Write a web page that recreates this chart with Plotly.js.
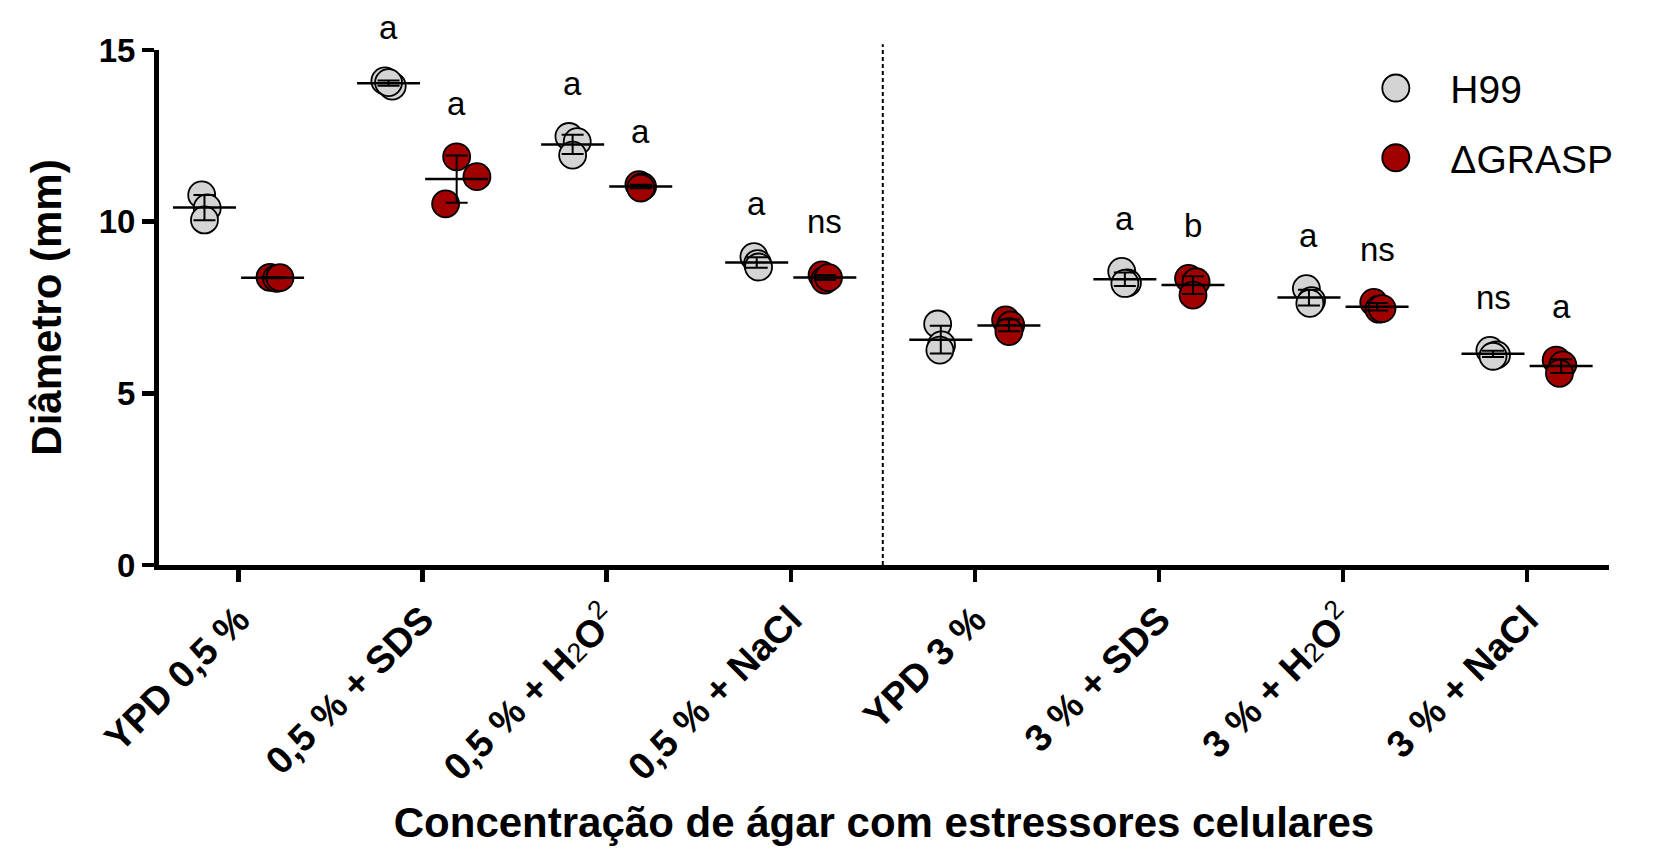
<!DOCTYPE html>
<html>
<head>
<meta charset="utf-8">
<script src="https://cdn.plot.ly/plotly-3.0.1.min.js"></script>
<style>html,body{margin:0;padding:0;background:#fff;}</style>
</head>
<body>
<div id="chart" style="width:1662px;height:852px;"></div>
<script>
// ---- data ----
const categories = [
  'YPD 0,5 %',
  '0,5 % + SDS',
  '0,5 % + H<span style="font-weight:normal;font-size:27px">2</span>O<sup><span style="font-weight:normal">2</span></sup>',
  '0,5 % + NaCl',
  'YPD 3 %',
  '3 % + SDS',
  '3 % + H<span style="font-weight:normal;font-size:27px">2</span>O<sup><span style="font-weight:normal">2</span></sup>',
  '3 % + NaCl'
];
const seriesNames = ['H99', '\u0394GRASP'];
const h99Values = [
  [10.78, 10.40, 10.05],
  [14.10, 13.95, 14.05],
  [12.48, 12.33, 11.94],
  [8.98, 8.78, 8.68],
  [7.02, 6.41, 6.26],
  [8.55, 8.22, 8.20],
  [8.05, 7.70, 7.62],
  [6.25, 6.12, 6.08]
];
const graspValues = [
  [8.38, 8.35, 8.37],
  [10.52, 11.89, 11.31],
  [11.08, 11.02, 10.98],
  [8.45, 8.30, 8.37],
  [7.14, 6.99, 6.80],
  [8.35, 8.25, 7.86],
  [7.65, 7.45, 7.47],
  [5.97, 5.83, 5.58]
];
const h99Sig = ['', 'a', 'a', 'a', '', 'a', 'a', 'ns'];
const graspSig = ['', 'a', 'a', 'ns', '', 'b', 'ns', 'a'];
const yTicks = [0, 5, 10, 15];
const yRange = [0, 15];

// ---- layout helpers (positions / styles) ----
const groupOffset = [-0.185, 0.185];
const h99Jitter = [
  [-0.015, 0.015, 0.0], [-0.02, 0.02, 0.0], [-0.02, 0.025, 0.0], [-0.015, 0.005, 0.01],
  [-0.017, 0.004, -0.005], [-0.017, 0.014, 0.0], [-0.014, 0.014, 0.005], [-0.017, 0.019, 0.0]
];
const graspJitter = [
  [-0.014, 0.022, 0.04], [-0.06, 0.0, 0.11], [-0.01, 0.01, 0.0], [-0.015, 0.0, 0.02],
  [-0.018, 0.01, 0.0], [-0.024, 0.017, 0.0], [-0.018, 0.01, 0.027], [-0.027, 0.009, -0.009]
];
const colors = ['#D4D4D4', '#A00000'];
const labelOffset = 1.55;
const FONT = 'Arial, "Liberation Sans", "Helvetica Neue", sans-serif';

const mean = a => a.reduce((s, v) => s + v, 0) / a.length;
const sd = a => { const m = mean(a); return Math.sqrt(a.reduce((s, v) => s + (v - m) * (v - m), 0) / (a.length - 1)); };

const allValues = [h99Values, graspValues];
const allJitter = [h99Jitter, graspJitter];
const allSig = [h99Sig, graspSig];

const traces = [];
// individual points
allValues.forEach((vals, s) => {
  const xs = [], ys = [];
  vals.forEach((grp, i) => grp.forEach((v, k) => { xs.push(i + groupOffset[s] + allJitter[s][i][k]); ys.push(v); }));
  traces.push({
    type: 'scatter', mode: 'markers', name: seriesNames[s], x: xs, y: ys,
    legendgroup: 'g' + s,
    marker: { size: 27, color: colors[s], line: { color: 'black', width: 1.8 } },
    cliponaxis: false, hoverinfo: 'skip'
  });
});
// mean line + SD error bars
allValues.forEach((vals, s) => {
  traces.push({
    type: 'scatter', mode: 'markers', showlegend: false,
    x: vals.map((g, i) => i + groupOffset[s]),
    y: vals.map(mean),
    marker: { symbol: 'line-ew', size: 45, color: 'black', line: { color: 'black', width: 2.5 } },
    error_y: { type: 'data', array: vals.map(sd), visible: true, color: 'black', thickness: 2, width: 11 },
    cliponaxis: false, hoverinfo: 'skip'
  });
});

// significance letters (y given as a fraction of the y-axis range so labels above 15 still show)
const annotations = [];
allValues.forEach((vals, s) => {
  vals.forEach((grp, i) => {
    if (!allSig[s][i]) return;
    annotations.push({
      x: i + groupOffset[s], xref: 'x',
      y: (Math.max(...grp) + labelOffset - yRange[0]) / (yRange[1] - yRange[0]), yref: 'paper',
      text: allSig[s][i], showarrow: false, xanchor: 'center', yanchor: 'middle',
      font: { family: FONT, size: 33, color: 'black' }
    });
  });
});

const dividerAt = categories.length / 2 - 0.5;

const layout = {
  width: 1662, height: 852,
  margin: { l: 159, r: 53, t: 50, b: 287 },
  paper_bgcolor: 'white', plot_bgcolor: 'white',
  font: { family: FONT, color: 'black' },
  showlegend: true,
  xaxis: {
    range: [-0.432, 7.445],
    tickvals: categories.map((c, i) => i), ticktext: categories,
    tickangle: -45,
    tickfont: { family: FONT, size: 38, weight: 'bold', color: 'black' },
    showline: true, linewidth: 5, linecolor: 'black',
    ticks: 'outside', ticklen: 12, tickwidth: 4.5, tickcolor: 'black',
    showgrid: false, zeroline: false,
    title: { text: 'Concentração de ágar com estressores celulares', font: { family: FONT, size: 42, weight: 'bold', color: 'black' }, standoff: 22 }
  },
  yaxis: {
    range: yRange, tickvals: yTicks,
    tickfont: { family: FONT, size: 33, weight: 'bold', color: 'black' },
    showline: true, linewidth: 5, linecolor: 'black',
    ticks: 'outside', ticklen: 12, tickwidth: 4.5, tickcolor: 'black',
    showgrid: false, zeroline: false,
    title: { text: 'Diâmetro (mm)', font: { family: FONT, size: 42, weight: 'bold', color: 'black' }, standoff: 25 }
  },
  legend: {
    x: 0.8154, y: 0.988, xanchor: 'left', yanchor: 'top',
    font: { family: FONT, size: 39, color: 'black' },
    bgcolor: 'rgba(0,0,0,0)', borderwidth: 0,
    traceorder: 'grouped', tracegroupgap: 16, itemwidth: 99
  },
  shapes: [{
    type: 'line', xref: 'x', yref: 'paper', x0: dividerAt, x1: dividerAt, y0: 0, y1: 1.011,
    line: { color: 'black', width: 2, dash: '4px,3px' }
  }],
  annotations: annotations
};

Plotly.newPlot('chart', traces, layout, { staticPlot: true }).then(gd => {
  gd.querySelectorAll('.legend .legendpoints path.scatterpts').forEach(p => {
    const t = p.getAttribute('transform') || '';
    p.setAttribute('transform', t + ' scale(1.69)');
    p.style.strokeWidth = '1.1px';
  });
});
</script>
</body>
</html>
